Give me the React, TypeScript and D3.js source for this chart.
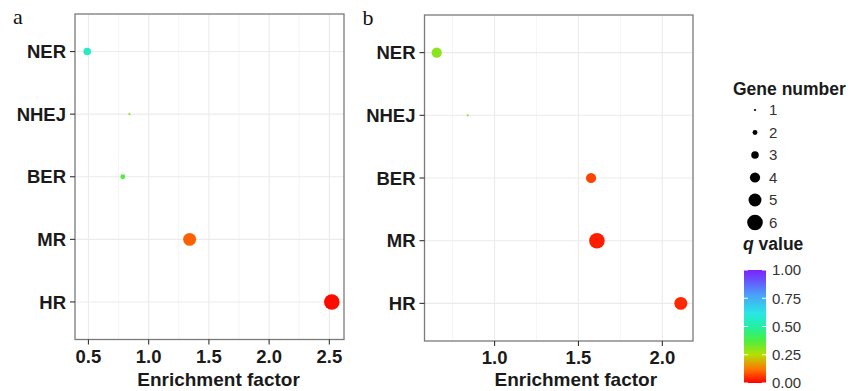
import React from 'react';
import * as d3 from 'd3';

const pathways = ['NER', 'NHEJ', 'BER', 'MR', 'HR'];

// panel a
const enrichA = [0.49, 0.84, 0.785, 1.34, 2.52];
const genesA = [3, 1, 2, 5, 6];
const qA = [0.56, 0.3, 0.37, 0.1, 0.01];

// panel b
const enrichB = [0.655, 0.84, 1.575, 1.61, 2.11];
const genesB = [4, 1, 4, 6, 5];
const qB = [0.3, 0.29, 0.07, 0.03, 0.04];

const ticksA = [0.5, 1.0, 1.5, 2.0, 2.5];
const ticksB = [1.0, 1.5, 2.0];
const sizeLevels = [1, 2, 3, 4, 5, 6];
const qTicks = [0, 0.25, 0.5, 0.75, 1];

const W = 857;
const H = 391;
const FONT = '"Liberation Sans", Arial, sans-serif';

const colorStops: [number, string][] = [
  [0, '#ff0000'],
  [0.12, '#ff7400'],
  [0.25, '#b4e000'],
  [0.38, '#48ee44'],
  [0.5, '#22f0a4'],
  [0.62, '#2ae6e6'],
  [0.78, '#4aa0f8'],
  [0.9, '#6458fc'],
  [1, '#8020ff'],
];
const qColor = d3.scaleLinear<string>()
  .domain(colorStops.map(d => d[0]))
  .range(colorStops.map(d => d[1]))
  .interpolate(d3.interpolateRgb);

const rScale = d3.scaleLinear().domain([1, 6]).range([1.1, 7.8]);

interface PanelProps {
  label: string;
  left: number;
  right: number;
  top: number;
  bottom: number;
  enrich: number[];
  genes: number[];
  q: number[];
  ticks: number[];
  titleShift: number;
}

function Panel({ label, left, right, top, bottom, enrich, genes, q, ticks, titleShift }: PanelProps) {
  const [lo, hi] = d3.extent(enrich) as [number, number];
  const pad = (hi - lo) * 0.05;
  const x = d3.scaleLinear().domain([lo - pad, hi + pad]).range([left, right]);
  const y = d3.scalePoint<string>().domain(pathways).range([top, bottom]).padding(0.6);

  // minor grid halfway between the majors
  const minor: number[] = [];
  for (let v = 0.25; v < 3; v += 0.5) {
    if (v > x.domain()[0] && v < x.domain()[1]) minor.push(v);
  }

  return (
    <g>
      <text x={left - 62} y={top + 10} fontFamily='"Liberation Serif", serif' fontSize={22} fill="#111">{label}</text>
      {minor.map(v => (
        <line key={'m' + v} x1={x(v)} x2={x(v)} y1={top} y2={bottom} stroke="#f5f5f5" strokeWidth={1} />
      ))}
      {ticks.map(v => (
        <line key={'g' + v} x1={x(v)} x2={x(v)} y1={top} y2={bottom} stroke="#ebebeb" strokeWidth={1.1} />
      ))}
      {pathways.map(p => (
        <line key={'h' + p} x1={left} x2={right} y1={y(p)} y2={y(p)} stroke="#ebebeb" strokeWidth={1.1} />
      ))}
      {pathways.map((p, i) => (
        <circle key={'c' + p} cx={x(enrich[i])} cy={y(p)} r={rScale(genes[i])} fill={qColor(q[i])} />
      ))}
      <rect x={left} y={top} width={right - left} height={bottom - top} fill="none" stroke="#7a7a7a" strokeWidth={1.3} />
      {pathways.map(p => (
        <g key={'yl' + p}>
          <line x1={left - 5} x2={left} y1={y(p)} y2={y(p)} stroke="#333" strokeWidth={1.1} />
          <text x={left - 9} y={y(p)} dy="0.36em" textAnchor="end" fontFamily={FONT} fontWeight="bold" fontSize={18.5} fill="#1a1a1a">{p}</text>
        </g>
      ))}
      {ticks.map(v => (
        <g key={'xl' + v}>
          <line x1={x(v)} x2={x(v)} y1={bottom} y2={bottom + 5} stroke="#333" strokeWidth={1.1} />
          <text x={x(v)} y={bottom + 23} textAnchor="middle" fontFamily={FONT} fontWeight="bold" fontSize={18.5} fill="#1a1a1a">{v.toFixed(1)}</text>
        </g>
      ))}
      <text x={(left + right) / 2 + titleShift} y={386} textAnchor="middle" fontFamily={FONT} fontWeight="bold" fontSize={19} fill="#1a1a1a">Enrichment factor</text>
    </g>
  );
}

function Legend() {
  const lx = 733;
  const rowY = d3.scaleLinear().domain([1, 6]).range([110, 222.5]);
  const barTop = 268;
  const barBottom = 385;
  const qy = d3.scaleLinear().domain([0, 1]).range([barBottom - 2, barTop + 2]);
  return (
    <g fontFamily={FONT}>
      <text x={lx} y={95} fontWeight="bold" fontSize={17.5} fill="#1a1a1a">Gene number</text>
      {sizeLevels.map(s => (
        <g key={'s' + s}>
          <circle cx={755} cy={rowY(s)} r={rScale(s)} fill="#000" />
          <text x={769} y={rowY(s)} dy="0.36em" fontSize={15} fill="#333">{s}</text>
        </g>
      ))}
      <text x={lx + 10} y={250} fontWeight="bold" fontSize={17.5} fill="#1a1a1a">
        <tspan fontStyle="italic">q</tspan> value
      </text>
      <defs>
        <linearGradient id="qgrad" x1="0" y1="1" x2="0" y2="0">
          {colorStops.map(([o, c]) => (
            <stop key={'st' + o} offset={o} stopColor={c} />
          ))}
        </linearGradient>
      </defs>
      <rect x={744} y={qy(1)} width={22} height={qy(0) - qy(1)} fill="url(#qgrad)" />
      {qTicks.map(v => (
        <g key={'q' + v}>
          <line x1={744} x2={748} y1={qy(v)} y2={qy(v)} stroke="#fff" strokeWidth={1} />
          <line x1={762} x2={766} y1={qy(v)} y2={qy(v)} stroke="#fff" strokeWidth={1} />
          <text x={772} y={qy(v)} dy="0.36em" fontSize={15} fill="#333">{v.toFixed(2)}</text>
        </g>
      ))}
    </g>
  );
}

export default function App() {
  return (
    <svg width={W} height={H} style={{ position: 'absolute', left: 0, top: 0, background: '#fff' }}>
      <Panel label="a" left={75} right={344} top={14} bottom={339.5}
        enrich={enrichA} genes={genesA} q={qA} ticks={ticksA} titleShift={9} />
      <Panel label="b" left={424.5} right={693} top={15} bottom={341}
        enrich={enrichB} genes={genesB} q={qB} ticks={ticksB} titleShift={17} />
      <Legend />
    </svg>
  );
}
